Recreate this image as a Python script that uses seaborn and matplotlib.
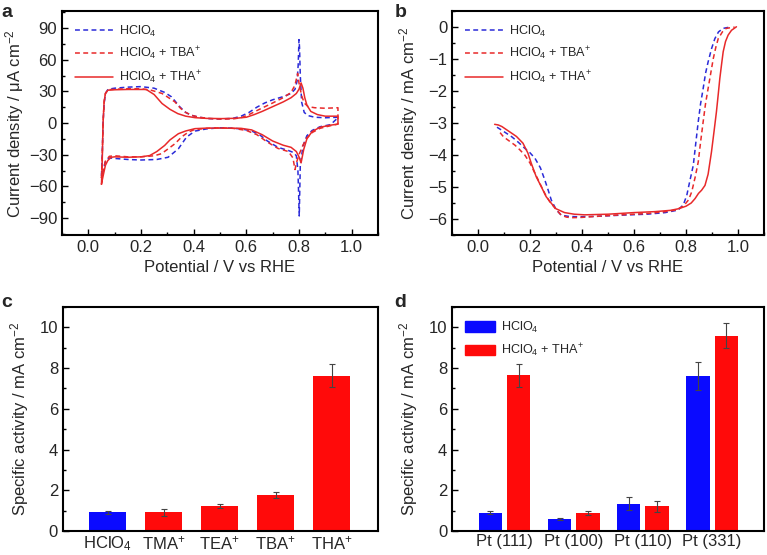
import numpy as np
import pandas as pd
import matplotlib
matplotlib.use("Agg")
import matplotlib.pyplot as plt
from matplotlib.ticker import MultipleLocator
from matplotlib.patches import Patch
from matplotlib.lines import Line2D
import seaborn as sns

# ---------------- data ----------------
# panel a: cyclic voltammograms (closed loops)
cv_hclo4_x = [0.05,0.053,0.056,0.06,0.065,0.075,0.10,0.15,0.20,0.25,0.29,0.316,0.348,0.37,0.392,0.42,0.46,0.50,0.55,0.58,0.61,0.64,0.67,0.70,0.74,0.77,0.785,0.793,0.797,0.80,0.802,0.805,0.81,0.82,0.835,0.86,0.90,0.95,
              0.95,0.92,0.88,0.85,0.83,0.815,0.805,0.801,0.799,0.796,0.79,0.78,0.76,0.72,0.68,0.65,0.62,0.58,0.54,0.50,0.45,0.405,0.373,0.342,0.303,0.26,0.20,0.15,0.10,0.08,0.065,0.057,0.05]
cv_hclo4_y = [-50,-30,0,18,28,32,33,34,34.5,33,29,24.8,15.2,10,7.3,5.5,4.2,3.8,4.5,6.5,10,15,19,22,25,28,32,40,55,79,72,45,20,10,7,5.5,5,5.5,
              5.5,-1.5,-3.5,-7,-12,-22,-40,-88,-70,-45,-31,-28,-26,-23,-17,-11,-7.5,-5.5,-4.8,-4.5,-5.5,-7.6,-13.3,-24.4,-32.4,-34.5,-35,-34.5,-33.5,-33,-36,-45,-50]

cv_tba_x = [0.05,0.053,0.056,0.06,0.065,0.075,0.10,0.15,0.20,0.24,0.28,0.305,0.329,0.35,0.367,0.39,0.42,0.46,0.50,0.55,0.58,0.61,0.65,0.70,0.74,0.77,0.785,0.795,0.80,0.81,0.82,0.835,0.86,0.90,0.948,
            0.948,0.92,0.88,0.85,0.83,0.815,0.80,0.79,0.785,0.777,0.76,0.72,0.68,0.64,0.60,0.55,0.50,0.45,0.43,0.40,0.38,0.355,0.329,0.30,0.278,0.25,0.20,0.15,0.10,0.08,0.065,0.057,0.05]
cv_tba_y = [-52,-30,0,20,28,31.5,32,32.5,32.5,31,28,24,20,14,10.5,7.5,5.5,4.3,3.8,4,5,8,13,19,24,29,36,47,38,26,19,15.5,14.5,14,14.5,
            -1,-2.5,-5,-9,-14,-21,-30,-38,-44,-33,-27,-24,-18,-11,-7,-5,-4.5,-5,-5.5,-6.5,-8.6,-13,-19.6,-25,-29,-31,-32,-32,-31,-31.5,-36,-44,-52]

cv_tha_x = [0.05,0.053,0.056,0.06,0.065,0.074,0.10,0.15,0.22,0.25,0.28,0.31,0.34,0.37,0.405,0.45,0.507,0.56,0.60,0.63,0.66,0.70,0.74,0.77,0.79,0.80,0.808,0.815,0.822,0.83,0.845,0.87,0.90,0.948,
            0.948,0.92,0.88,0.85,0.83,0.818,0.808,0.80,0.79,0.77,0.74,0.70,0.66,0.62,0.58,0.50,0.45,0.405,0.37,0.342,0.31,0.29,0.26,0.233,0.20,0.15,0.10,0.087,0.074,0.065,0.058,0.053,0.05]
cv_tha_y = [-58,-35,0,20,28,31.1,31.5,31.8,31.8,27,18.5,13,8.9,6.5,5.1,4.4,4.2,4.5,5.5,8,11,15.5,20,24,28,32,38,33,24,17,11,8,6.5,6.5,
            -1,-2,-4,-8,-15,-25,-37.7,-32,-27,-23,-21,-17,-11,-6.5,-5,-4.8,-4.8,-5.3,-7.5,-10.1,-16,-21.2,-27,-30.8,-32,-32.4,-32,-32.4,-35.5,-40,-48,-54,-58]

# panel b: ORR polarisation curves
orr_hclo4_x = [0.073,0.10,0.13,0.155,0.18,0.20,0.219,0.24,0.257,0.27,0.282,0.30,0.32,0.35,0.384,0.45,0.55,0.65,0.72,0.77,0.79,0.803,0.815,0.828,0.838,0.847,0.856,0.866,0.875,0.885,0.898,0.911,0.925,0.943,0.968]
orr_hclo4_y = [-3.13,-3.27,-3.43,-3.6,-3.79,-3.93,-4.1,-4.4,-4.78,-5.1,-5.41,-5.7,-5.88,-5.92,-5.93,-5.92,-5.88,-5.85,-5.8,-5.72,-5.55,-5.26,-4.8,-4.32,-3.6,-2.96,-2.4,-1.92,-1.45,-1.09,-0.68,-0.36,-0.15,-0.04,0.0]

orr_tba_x = [0.085,0.098,0.12,0.142,0.16,0.18,0.20,0.213,0.23,0.244,0.26,0.276,0.30,0.32,0.34,0.359,0.40,0.45,0.55,0.65,0.72,0.76,0.79,0.81,0.822,0.835,0.847,0.856,0.866,0.875,0.885,0.895,0.905,0.915,0.924,0.94,0.955,0.987]
orr_tba_y = [-3.3,-3.43,-3.56,-3.69,-3.83,-4.0,-4.25,-4.47,-4.75,-4.99,-5.25,-5.46,-5.7,-5.88,-5.94,-5.96,-5.95,-5.92,-5.87,-5.83,-5.77,-5.72,-5.6,-5.4,-5.15,-4.7,-4.22,-3.6,-2.96,-2.4,-1.92,-1.45,-0.98,-0.62,-0.36,-0.15,-0.04,0.0]

orr_tha_x = [0.064,0.078,0.092,0.11,0.13,0.148,0.173,0.192,0.205,0.224,0.244,0.262,0.282,0.30,0.333,0.37,0.41,0.50,0.60,0.68,0.74,0.771,0.80,0.82,0.835,0.848,0.86,0.873,0.885,0.898,0.908,0.917,0.924,0.93,0.937,0.943,0.952,0.962,0.975,0.994]
orr_tha_y = [-3.04,-3.06,-3.11,-3.21,-3.32,-3.42,-3.63,-3.94,-4.26,-4.68,-5.0,-5.3,-5.51,-5.68,-5.8,-5.85,-5.87,-5.85,-5.8,-5.77,-5.73,-5.68,-5.6,-5.5,-5.36,-5.2,-5.1,-4.95,-4.6,-3.9,-3.25,-2.65,-2.1,-1.61,-1.15,-0.77,-0.45,-0.25,-0.1,0.01]

# panel c: specific activity vs cation
c_categories = ["HClO$_4$", "TMA$^{+}$", "TEA$^{+}$", "TBA$^{+}$", "THA$^{+}$"]
c_values = [0.91, 0.91, 1.21, 1.77, 7.63]
c_errors = [0.08, 0.15, 0.10, 0.17, 0.56]

# panel d: specific activity vs surface
d_surfaces = ["Pt (111)", "Pt (100)", "Pt (110)", "Pt (331)"]
d_hclo4 = [0.90, 0.58, 1.35, 7.62]
d_hclo4_err = [0.08, 0.05, 0.30, 0.68]
d_tha = [7.65, 0.89, 1.22, 9.60]
d_tha_err = [0.57, 0.10, 0.27, 0.63]

legend_labels = ["HClO$_4$", "HClO$_4$ + TBA$^{+}$", "HClO$_4$ + THA$^{+}$"]

# ---------------- style ----------------
sns.set_style("ticks")
plt.rcParams["font.family"] = ["Liberation Sans", "DejaVu Sans"]
plt.rcParams["mathtext.fontset"] = "custom"
plt.rcParams["mathtext.rm"] = "Liberation Sans"
plt.rcParams["mathtext.it"] = "Liberation Sans:italic"
plt.rcParams["mathtext.bf"] = "Liberation Sans:bold"
plt.rcParams["axes.unicode_minus"] = True

BLUE_L = "#2b2bd8"
RED_L = "#e8292a"
BLUE_B = "#0a0aff"
RED_B = "#ff0a0a"
FS = 12
LFS = 9.1

fig = plt.figure(figsize=(7.67, 5.55), dpi=100)
ax_a = fig.add_axes([0.0808, 0.5766, 0.412, 0.4034])
ax_b = fig.add_axes([0.5893, 0.5766, 0.4068, 0.4034])
ax_c = fig.add_axes([0.0821, 0.0432, 0.4107, 0.4036])
ax_d = fig.add_axes([0.5893, 0.0432, 0.4068, 0.4036])


def style_axes(ax, xtick=True):
    for s in ax.spines.values():
        s.set_linewidth(1.5)
        s.set_color("black")
    ax.tick_params(which="both", direction="in", top=False, right=False,
                   labelsize=FS, width=1.0, color="black")
    ax.tick_params(which="major", length=4)
    ax.tick_params(which="minor", length=2.5)
    if not xtick:
        ax.tick_params(axis="x", which="both", length=0, pad=2.5)


dash = (0, (3.2, 2.2))

# ---- panel a ----
for xs, ys, col, ls, lab in [
    (cv_hclo4_x, cv_hclo4_y, BLUE_L, dash, legend_labels[0]),
    (cv_tba_x, cv_tba_y, RED_L, dash, legend_labels[1]),
    (cv_tha_x, cv_tha_y, RED_L, "-", legend_labels[2]),
]:
    sns.lineplot(x=xs, y=ys, sort=False, estimator=None, color=col,
                 linestyle=ls, linewidth=1.1, ax=ax_a, legend=False)
ax_a.set_xlim(-0.1, 1.1)
ax_a.set_ylim(-106, 106)
ax_a.xaxis.set_major_locator(MultipleLocator(0.2))
ax_a.xaxis.set_minor_locator(MultipleLocator(0.1))
ax_a.yaxis.set_major_locator(MultipleLocator(30))
ax_a.yaxis.set_minor_locator(MultipleLocator(15))
ax_a.xaxis.set_major_formatter(matplotlib.ticker.FormatStrFormatter("%.1f"))
ax_a.set_xlabel("Potential / V vs RHE", fontsize=FS, labelpad=4)
ax_a.set_ylabel("Current density / μA cm$^{-2}$", fontsize=FS, labelpad=2)
style_axes(ax_a)

handles_ab = [
    Line2D([], [], color=BLUE_L, linestyle=dash, linewidth=1.1),
    Line2D([], [], color=RED_L, linestyle=dash, linewidth=1.1),
    Line2D([], [], color=RED_L, linestyle="-", linewidth=1.1),
]
ax_a.legend(handles_ab, legend_labels, loc="upper left", frameon=False,
            fontsize=LFS, handlelength=3.0, handletextpad=0.5,
            labelspacing=0.5, borderaxespad=0.6)

# ---- panel b ----
for xs, ys, col, ls in [
    (orr_hclo4_x, orr_hclo4_y, BLUE_L, dash),
    (orr_tba_x, orr_tba_y, RED_L, dash),
    (orr_tha_x, orr_tha_y, RED_L, "-"),
]:
    sns.lineplot(x=xs, y=ys, sort=False, estimator=None, color=col,
                 linestyle=ls, linewidth=1.1, ax=ax_b, legend=False)
ax_b.set_xlim(-0.1, 1.1)
ax_b.set_ylim(-6.5, 0.5)
ax_b.xaxis.set_major_locator(MultipleLocator(0.2))
ax_b.xaxis.set_minor_locator(MultipleLocator(0.1))
ax_b.yaxis.set_major_locator(MultipleLocator(1))
ax_b.yaxis.set_minor_locator(MultipleLocator(0.5))
ax_b.xaxis.set_major_formatter(matplotlib.ticker.FormatStrFormatter("%.1f"))
ax_b.set_xlabel("Potential / V vs RHE", fontsize=FS, labelpad=4)
ax_b.set_ylabel("Current density / mA cm$^{-2}$", fontsize=FS, labelpad=6)
style_axes(ax_b)
ax_b.legend(handles_ab, legend_labels, loc="upper left", frameon=False,
            fontsize=LFS, handlelength=3.0, handletextpad=0.5,
            labelspacing=0.5, borderaxespad=0.6)

# ---- panel c ----
c_colors = [BLUE_B] + [RED_B] * (len(c_categories) - 1)
sns.barplot(x=c_categories, y=c_values, hue=c_categories, palette=c_colors,
            width=0.655, errorbar=None, legend=False, ax=ax_c,
            saturation=1, linewidth=0)
ax_c.errorbar(np.arange(len(c_categories)), c_values, yerr=c_errors,
              fmt="none", ecolor="#444444", elinewidth=0.8, capsize=2,
              capthick=0.8)
ax_c.set_xlim(-0.8, 4.83)
ax_c.set_ylim(0, 11)
ax_c.yaxis.set_major_locator(MultipleLocator(2))
ax_c.yaxis.set_minor_locator(MultipleLocator(1))
ax_c.set_ylabel("Specific activity / mA cm$^{-2}$", fontsize=FS, labelpad=6)
ax_c.set_xlabel("")
style_axes(ax_c, xtick=False)

# ---- panel d ----
df_d = pd.DataFrame({
    "surface": d_surfaces * 2,
    "value": d_hclo4 + d_tha,
    "electrolyte": [legend_labels[0]] * len(d_surfaces) + [legend_labels[2]] * len(d_surfaces),
})
sns.barplot(data=df_d, x="surface", y="value", hue="electrolyte",
            palette=[BLUE_B, RED_B], width=0.82, gap=0.18, errorbar=None,
            ax=ax_d, saturation=1, linewidth=0)
for cont, errs in zip(ax_d.containers, [d_hclo4_err, d_tha_err]):
    xs = [p.get_x() + p.get_width() / 2 for p in cont.patches]
    hs = [p.get_height() for p in cont.patches]
    ax_d.errorbar(xs, hs, yerr=errs, fmt="none", ecolor="#444444",
                  elinewidth=0.8, capsize=2, capthick=0.8)
ax_d.set_xlim(-0.76, 3.75)
ax_d.set_ylim(0, 11)
ax_d.yaxis.set_major_locator(MultipleLocator(2))
ax_d.yaxis.set_minor_locator(MultipleLocator(1))
ax_d.set_ylabel("Specific activity / mA cm$^{-2}$", fontsize=FS, labelpad=6)
ax_d.set_xlabel("")
style_axes(ax_d, xtick=False)
ax_d.legend([Patch(color=BLUE_B), Patch(color=RED_B)],
            [legend_labels[0], legend_labels[2]], loc="upper left",
            frameon=False, fontsize=LFS, handlelength=2.4, handleheight=0.9,
            handletextpad=0.5, labelspacing=0.55, borderaxespad=0.6)

# panel letters
for lbl, (x, y) in zip("abcd", [(0.002, 0.993), (0.514, 0.993),
                                 (0.002, 0.47), (0.514, 0.47)]):
    fig.text(x, y, lbl, fontsize=14, fontweight="bold", va="top", ha="left")

fig.savefig("out.png", dpi=100)
